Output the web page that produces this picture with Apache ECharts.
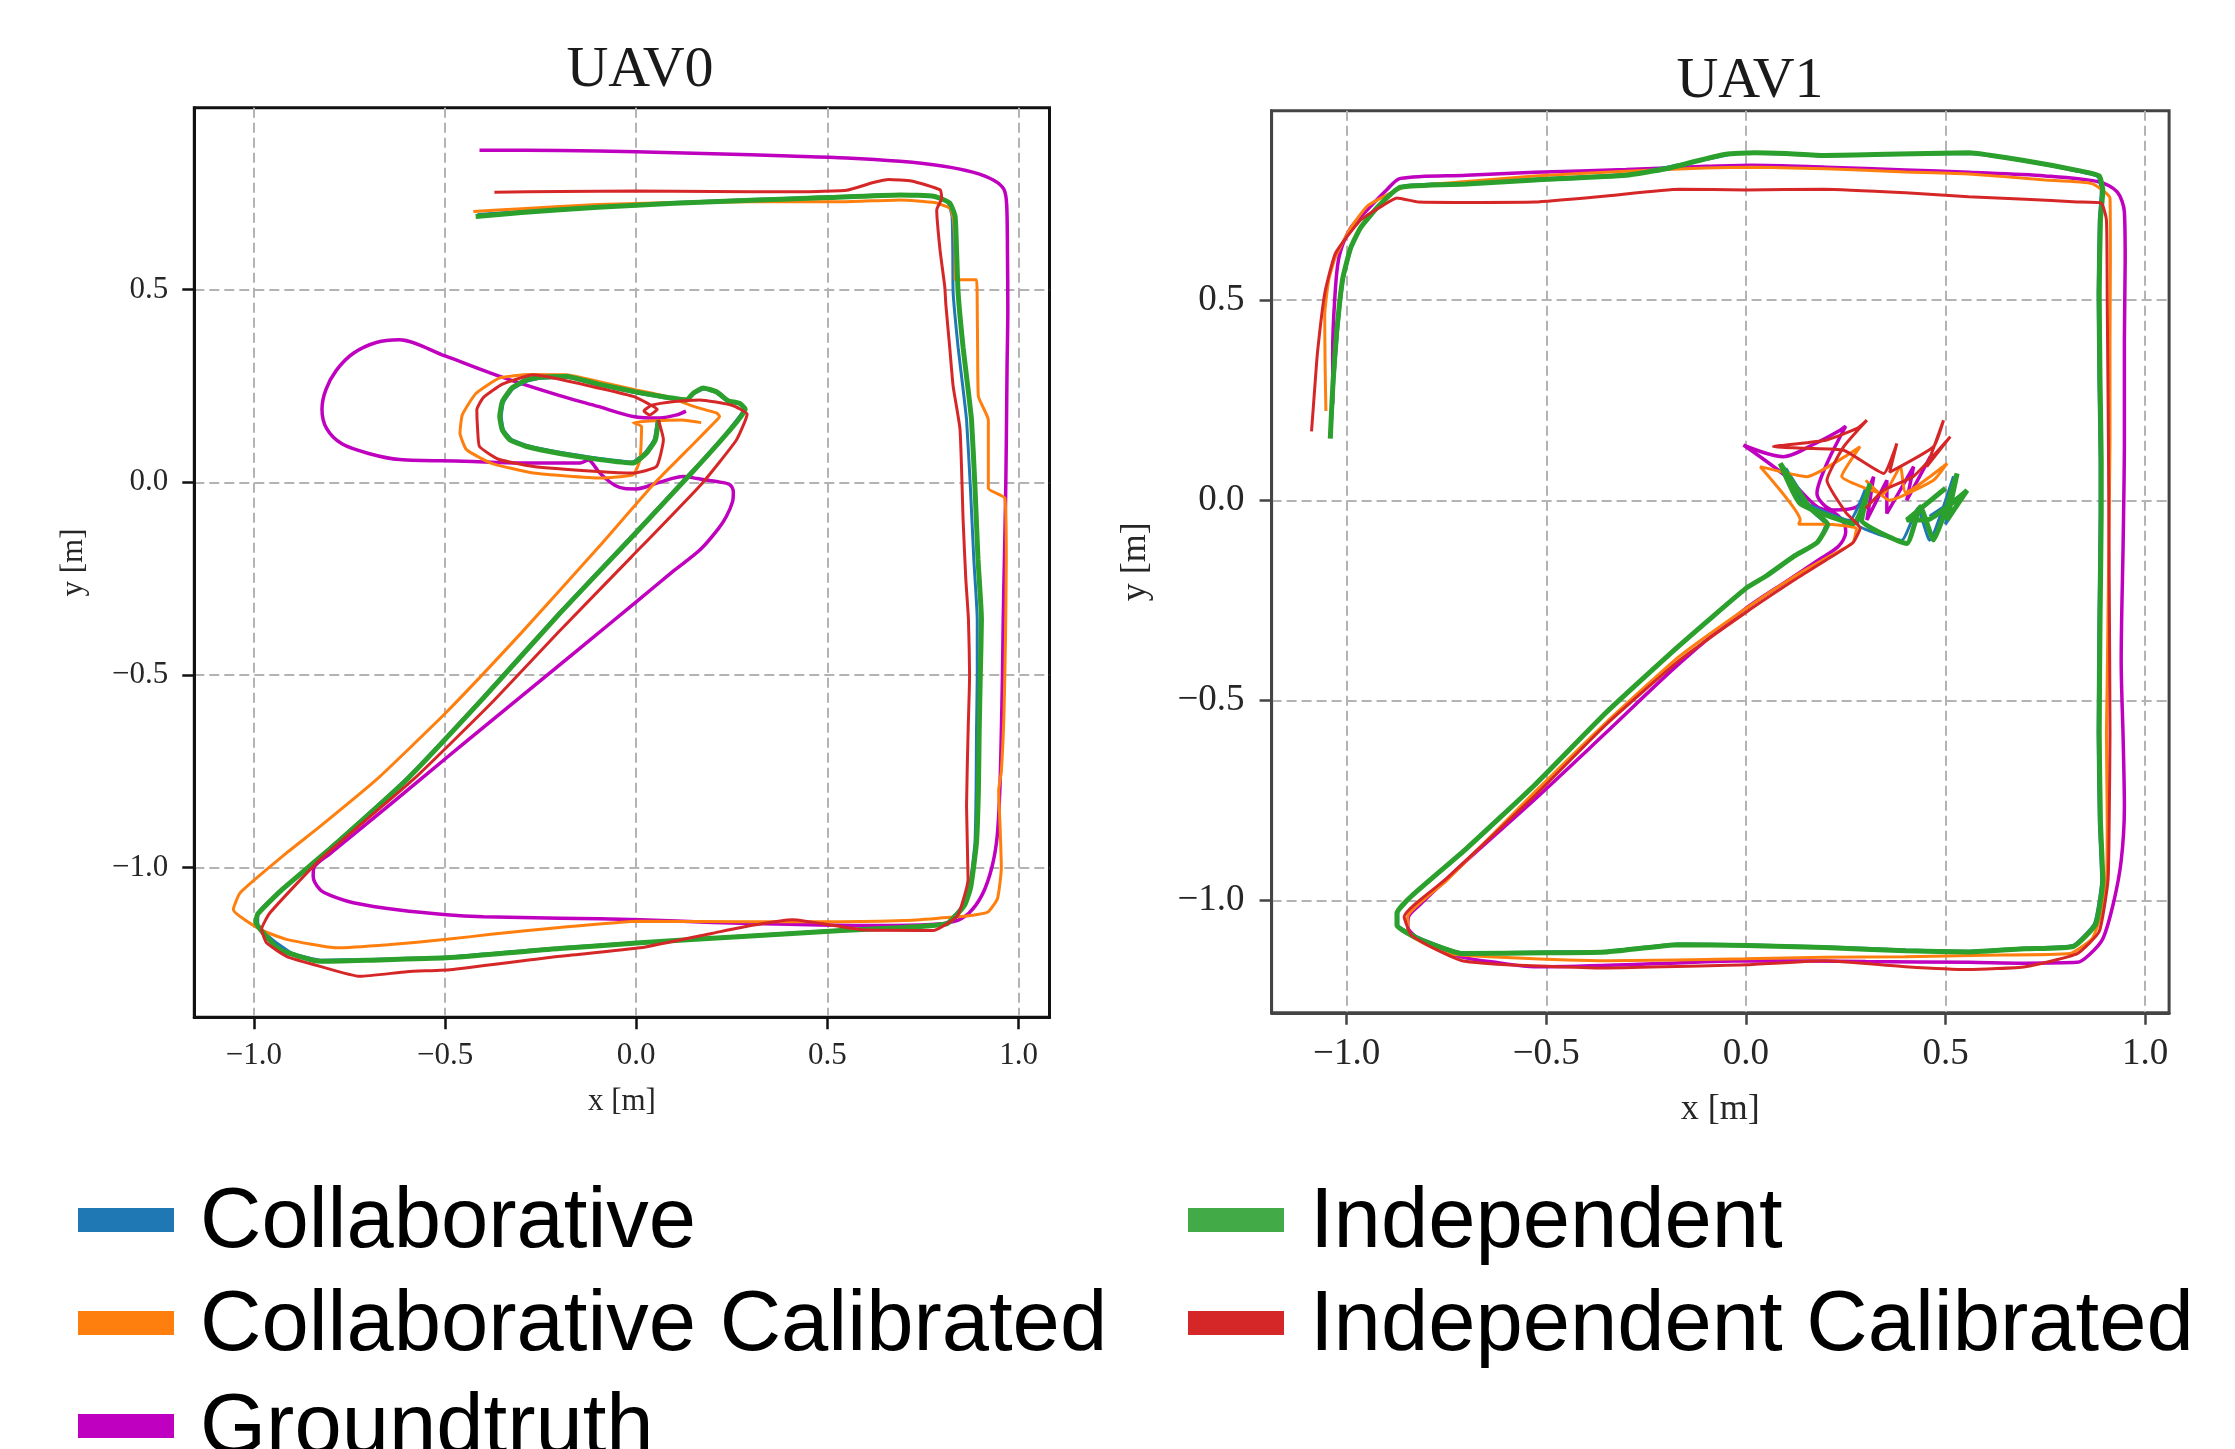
<!DOCTYPE html>
<html><head><meta charset="utf-8">
<script src="https://cdn.jsdelivr.net/npm/echarts@6/dist/echarts.min.js"></script>
<style>html,body{margin:0;padding:0;background:#fff}#c{width:2235px;height:1449px}</style>
</head><body><div id="c"></div>
<script>
const panelTitles = ['UAV0', 'UAV1'];
const seriesNames = ['Collaborative', 'Collaborative Calibrated', 'Groundtruth', 'Independent', 'Independent Calibrated'];
const xTickValues = [-1.0, -0.5, 0.0, 0.5, 1.0];
const yTickValues = [-1.0, -0.5, 0.0, 0.5];

// ---- UAV0 trajectories [x, y] in metres ----
const uav0Groundtruth = [[-0.41,0.862],[-0.2,0.861],[0.0,0.858],[0.2,0.853],[0.4,0.847],[0.55,0.842],[0.69,0.833],[0.8,0.821],[0.88,0.805],[0.935,0.784],[0.962,0.76],[0.969,0.72],[0.971,0.6],[0.972,0.45],[0.97,0.3],[0.968,0.1],[0.966,-0.05],[0.963,-0.2],[0.96,-0.356],[0.958,-0.5],[0.955,-0.65],[0.951,-0.8],[0.944,-0.92],[0.93,-1.0],[0.905,-1.07],[0.87,-1.118],[0.83,-1.14],[0.76,-1.148],[0.6,-1.15],[0.4,-1.147],[0.2,-1.142],[0.01,-1.135],[-0.2,-1.131],[-0.4,-1.127],[-0.496,-1.122],[-0.62,-1.11],[-0.74,-1.091],[-0.8,-1.072],[-0.827,-1.057],[-0.845,-1.022],[-0.843,-1.0],[-0.8,-0.963],[-0.7,-0.882],[-0.566,-0.772],[-0.45,-0.677],[-0.3,-0.555],[-0.15,-0.433],[0.0,-0.31],[0.1,-0.228],[0.167,-0.175],[0.215,-0.12],[0.236,-0.088],[0.252,-0.05],[0.254,-0.025],[0.245,-0.006],[0.21,0.002],[0.16,0.01],[0.123,0.015],[0.06,0.0],[0.0,-0.017],[-0.03,-0.016],[-0.055,-0.008],[-0.08,0.01],[-0.1,0.03],[-0.115,0.05],[-0.125,0.058],[-0.147,0.05],[-0.3,0.05],[-0.45,0.055],[-0.619,0.059],[-0.7,0.075],[-0.77,0.1],[-0.81,0.14],[-0.822,0.19],[-0.812,0.24],[-0.785,0.29],[-0.74,0.335],[-0.68,0.363],[-0.62,0.37],[-0.5,0.328],[-0.357,0.275],[-0.2,0.225],[-0.1,0.197],[-0.008,0.171],[0.062,0.167],[0.106,0.175],[0.13,0.185]];
const uav0Collaborative = [[-0.415,0.695],[-0.3,0.703],[-0.1,0.716],[0.1,0.726],[0.3,0.734],[0.5,0.741],[0.69,0.747],[0.78,0.743],[0.815,0.727],[0.826,0.69],[0.828,0.6],[0.829,0.491],[0.842,0.35],[0.854,0.25],[0.864,0.162],[0.874,-0.011],[0.883,-0.2],[0.892,-0.356],[0.892,-0.5],[0.89,-0.65],[0.889,-0.8],[0.886,-0.935],[0.872,-1.05],[0.855,-1.097],[0.81,-1.145],[0.7,-1.154],[0.538,-1.162],[0.3,-1.176],[0.01,-1.194],[-0.2,-1.208],[-0.496,-1.232],[-0.7,-1.238],[-0.827,-1.24],[-0.9,-1.222],[-0.95,-1.188],[-0.99,-1.148],[-0.99,-1.12],[-0.93,-1.06],[-0.8,-0.948],[-0.6,-0.768],[-0.4,-0.557],[-0.2,-0.337],[0.0,-0.127],[0.15,0.033],[0.24,0.133],[0.282,0.192],[0.268,0.205],[0.24,0.21],[0.21,0.232],[0.178,0.242],[0.15,0.23],[0.13,0.212],[0.07,0.22],[-0.008,0.234],[-0.1,0.253],[-0.182,0.272],[-0.25,0.27],[-0.285,0.263],[-0.322,0.243],[-0.347,0.208],[-0.353,0.171],[-0.347,0.136],[-0.327,0.112],[-0.285,0.096],[-0.2,0.078],[-0.095,0.062],[-0.01,0.053],[0.024,0.078],[0.047,0.112],[0.055,0.16]];
const uav0CollaborativeCalibrated = [[-0.426,0.703],[-0.3,0.71],[-0.1,0.721],[0.1,0.726],[0.3,0.728],[0.538,0.728],[0.69,0.733],[0.78,0.726],[0.821,0.711],[0.83,0.68],[0.834,0.6],[0.834,0.526],[0.89,0.526],[0.892,0.45],[0.893,0.35],[0.895,0.223],[0.921,0.162],[0.921,-0.015],[0.964,-0.041],[0.968,-0.2],[0.966,-0.4],[0.962,-0.6],[0.955,-0.75],[0.948,-0.8],[0.952,-0.9],[0.955,-1.0],[0.945,-1.08],[0.92,-1.115],[0.87,-1.125],[0.7,-1.137],[0.5,-1.14],[0.3,-1.14],[0.01,-1.139],[-0.2,-1.155],[-0.38,-1.173],[-0.496,-1.186],[-0.65,-1.2],[-0.784,-1.208],[-0.915,-1.186],[-0.984,-1.16],[-1.054,-1.109],[-1.036,-1.065],[-0.915,-0.962],[-0.827,-0.893],[-0.679,-0.771],[-0.5,-0.6],[-0.3,-0.39],[-0.1,-0.17],[0.05,0.0],[0.15,0.1],[0.207,0.158],[0.218,0.171],[0.21,0.18],[0.15,0.197],[0.08,0.223],[0.0,0.24],[-0.1,0.262],[-0.182,0.279],[-0.28,0.28],[-0.357,0.271],[-0.42,0.23],[-0.455,0.175],[-0.461,0.128],[-0.444,0.085],[-0.38,0.05],[-0.269,0.024],[-0.095,0.011],[-0.008,0.02],[0.01,0.059],[0.014,0.145],[-0.008,0.155],[0.05,0.16],[0.12,0.162],[0.17,0.155]];
const uav0Independent = [[-0.42,0.69],[-0.3,0.7],[-0.1,0.714],[0.1,0.724],[0.3,0.732],[0.5,0.739],[0.69,0.746],[0.78,0.742],[0.82,0.725],[0.834,0.69],[0.838,0.6],[0.842,0.491],[0.855,0.35],[0.867,0.25],[0.877,0.162],[0.886,-0.011],[0.894,-0.2],[0.903,-0.356],[0.9,-0.5],[0.897,-0.65],[0.895,-0.8],[0.89,-0.935],[0.875,-1.05],[0.859,-1.097],[0.813,-1.145],[0.7,-1.155],[0.538,-1.163],[0.3,-1.177],[0.01,-1.195],[-0.2,-1.21],[-0.496,-1.234],[-0.7,-1.24],[-0.827,-1.243],[-0.932,-1.213],[-0.975,-1.17],[-0.995,-1.14],[-0.99,-1.12],[-0.93,-1.06],[-0.8,-0.95],[-0.6,-0.771],[-0.4,-0.56],[-0.2,-0.34],[0.0,-0.13],[0.15,0.03],[0.24,0.13],[0.285,0.19],[0.27,0.205],[0.24,0.212],[0.21,0.235],[0.175,0.245],[0.15,0.232],[0.132,0.214],[0.07,0.222],[-0.008,0.236],[-0.1,0.255],[-0.182,0.275],[-0.25,0.273],[-0.287,0.266],[-0.325,0.245],[-0.35,0.21],[-0.357,0.171],[-0.35,0.135],[-0.33,0.11],[-0.287,0.093],[-0.2,0.075],[-0.095,0.059],[-0.008,0.05],[0.027,0.076],[0.05,0.11],[0.058,0.162]];
const uav0IndependentCalibrated = [[-0.371,0.753],[-0.2,0.755],[0.0,0.756],[0.2,0.755],[0.4,0.754],[0.55,0.758],[0.62,0.778],[0.66,0.786],[0.72,0.782],[0.795,0.759],[0.799,0.737],[0.786,0.707],[0.795,0.6],[0.807,0.508],[0.81,0.46],[0.82,0.35],[0.829,0.249],[0.847,0.137],[0.855,-0.097],[0.862,-0.25],[0.869,-0.356],[0.872,-0.5],[0.868,-0.65],[0.864,-0.84],[0.868,-1.03],[0.84,-1.125],[0.776,-1.163],[0.6,-1.162],[0.409,-1.135],[0.3,-1.15],[0.2,-1.17],[0.01,-1.208],[-0.2,-1.23],[-0.479,-1.264],[-0.6,-1.27],[-0.723,-1.282],[-0.827,-1.256],[-0.915,-1.23],[-0.967,-1.195],[-0.98,-1.16],[-0.958,-1.117],[-0.827,-0.979],[-0.583,-0.771],[-0.38,-0.574],[-0.2,-0.385],[-0.013,-0.194],[0.171,-0.004],[0.262,0.11],[0.29,0.177],[0.25,0.2],[0.166,0.214],[0.1,0.21],[0.04,0.2],[0.02,0.185],[0.035,0.175],[0.055,0.19],[0.03,0.205],[-0.008,0.223],[-0.1,0.245],[-0.269,0.279],[-0.35,0.255],[-0.4,0.22],[-0.417,0.188],[-0.415,0.14],[-0.41,0.093],[-0.36,0.06],[-0.269,0.041],[-0.1,0.028],[-0.008,0.024],[0.053,0.041],[0.071,0.111],[0.058,0.162]];

// ---- UAV1 trajectories [x, y] in metres ----
const uav1Groundtruth = [[-1.035,0.24],[-1.035,0.37],[-1.03,0.5],[-1.019,0.608],[-0.99,0.68],[-0.947,0.727],[-0.9,0.775],[-0.865,0.804],[-0.7,0.812],[-0.529,0.819],[-0.3,0.826],[-0.1,0.834],[0.015,0.837],[0.2,0.832],[0.4,0.825],[0.558,0.819],[0.75,0.81],[0.885,0.795],[0.93,0.77],[0.948,0.72],[0.95,0.6],[0.948,0.4],[0.948,0.15],[0.945,-0.1],[0.94,-0.4],[0.945,-0.6],[0.948,-0.766],[0.94,-0.9],[0.921,-1.004],[0.894,-1.095],[0.86,-1.135],[0.83,-1.154],[0.7,-1.156],[0.558,-1.154],[0.3,-1.152],[0.015,-1.15],[-0.25,-1.158],[-0.529,-1.165],[-0.62,-1.155],[-0.711,-1.141],[-0.78,-1.115],[-0.82,-1.095],[-0.847,-1.065],[-0.845,-1.04],[-0.82,-1.013],[-0.7,-0.9],[-0.529,-0.747],[-0.35,-0.58],[-0.167,-0.408],[0.0,-0.27],[0.105,-0.2],[0.18,-0.15],[0.232,-0.115],[0.25,-0.08],[0.245,-0.055],[0.219,-0.03],[0.178,-0.016],[0.1,0.06],[-0.006,0.138],[0.094,0.109],[0.17,0.14],[0.236,0.175],[0.25,0.185],[0.203,0.092],[0.178,0.017],[0.219,-0.024],[0.278,-0.016],[0.32,0.059],[0.303,-0.049],[0.353,0.05],[0.353,-0.033],[0.42,0.084],[0.403,0.0],[0.462,0.109]];
const uav1Collaborative = [[-1.04,0.16],[-1.036,0.23],[-1.032,0.3],[-1.023,0.42],[-1.008,0.555],[-0.988,0.632],[-0.963,0.683],[-0.918,0.737],[-0.863,0.784],[-0.7,0.792],[-0.529,0.802],[-0.3,0.814],[-0.167,0.838],[-0.1,0.851],[-0.022,0.867],[0.1,0.865],[0.196,0.86],[0.35,0.863],[0.558,0.866],[0.7,0.847],[0.83,0.822],[0.882,0.808],[0.89,0.772],[0.885,0.7],[0.882,0.516],[0.884,0.3],[0.887,0.1],[0.887,-0.033],[0.884,-0.3],[0.882,-0.582],[0.885,-0.8],[0.891,-0.949],[0.873,-1.057],[0.819,-1.112],[0.7,-1.118],[0.558,-1.126],[0.4,-1.123],[0.196,-1.115],[0.0,-1.11],[-0.167,-1.108],[-0.348,-1.126],[-0.5,-1.128],[-0.711,-1.13],[-0.818,-1.093],[-0.872,-1.06],[-0.872,-1.03],[-0.836,-0.987],[-0.698,-0.868],[-0.527,-0.709],[-0.348,-0.528],[-0.165,-0.361],[0.002,-0.218],[0.053,-0.187],[0.122,-0.138],[0.18,-0.104],[0.2,-0.06],[0.17,-0.03],[0.1,0.08],[0.14,0.0],[0.26,-0.05],[0.3,0.03],[0.28,-0.06],[0.39,-0.1],[0.43,-0.02],[0.46,-0.1],[0.52,0.06],[0.5,-0.06],[0.55,0.02],[0.46,-0.04]];
const uav1CollaborativeCalibrated = [[-1.052,0.223],[-1.054,0.34],[-1.055,0.462],[-1.045,0.55],[-1.028,0.608],[-0.99,0.68],[-0.947,0.736],[-0.856,0.782],[-0.7,0.796],[-0.529,0.81],[-0.3,0.822],[-0.1,0.83],[0.015,0.832],[0.2,0.828],[0.4,0.82],[0.558,0.815],[0.75,0.8],[0.867,0.791],[0.912,0.755],[0.913,0.6],[0.912,0.4],[0.912,0.15],[0.908,-0.2],[0.905,-0.45],[0.903,-0.582],[0.905,-0.8],[0.903,-0.949],[0.885,-1.05],[0.867,-1.095],[0.812,-1.132],[0.6,-1.136],[0.4,-1.14],[0.196,-1.141],[0.0,-1.145],[-0.348,-1.15],[-0.6,-1.142],[-0.747,-1.132],[-0.81,-1.105],[-0.847,-1.081],[-0.847,-1.04],[-0.75,-0.95],[-0.529,-0.729],[-0.35,-0.555],[-0.167,-0.39],[0.0,-0.27],[0.123,-0.189],[0.2,-0.145],[0.268,-0.106],[0.277,-0.07],[0.2,-0.06],[0.132,-0.06],[0.136,-0.049],[0.036,0.084],[0.153,0.059],[0.286,0.134],[0.24,0.06],[0.345,0.017],[0.387,0.084],[0.4,0.02],[0.504,0.092],[0.47,0.05],[0.36,0.0],[0.3,0.05]];
const uav1Independent = [[-1.041,0.154],[-1.038,0.22],[-1.034,0.297],[-1.025,0.42],[-1.01,0.553],[-0.99,0.63],[-0.965,0.681],[-0.92,0.735],[-0.865,0.782],[-0.7,0.79],[-0.529,0.8],[-0.3,0.812],[-0.2,0.828],[-0.12,0.848],[-0.05,0.864],[0.02,0.868],[0.1,0.866],[0.196,0.861],[0.35,0.864],[0.558,0.868],[0.7,0.848],[0.83,0.824],[0.885,0.81],[0.894,0.773],[0.888,0.7],[0.885,0.516],[0.887,0.3],[0.89,0.1],[0.89,-0.033],[0.887,-0.3],[0.885,-0.582],[0.888,-0.8],[0.894,-0.949],[0.876,-1.059],[0.821,-1.114],[0.7,-1.12],[0.558,-1.128],[0.4,-1.125],[0.196,-1.117],[0.0,-1.112],[-0.167,-1.11],[-0.348,-1.128],[-0.5,-1.13],[-0.711,-1.132],[-0.82,-1.095],[-0.874,-1.062],[-0.874,-1.031],[-0.838,-0.989],[-0.7,-0.87],[-0.529,-0.711],[-0.35,-0.53],[-0.167,-0.363],[0.0,-0.22],[0.051,-0.189],[0.12,-0.14],[0.178,-0.106],[0.205,-0.06],[0.161,-0.02],[0.086,0.092],[0.136,-0.008],[0.27,-0.058],[0.311,0.042],[0.29,-0.05],[0.403,-0.108],[0.437,-0.016],[0.47,-0.099],[0.529,0.067],[0.504,-0.049],[0.554,0.025],[0.453,-0.049],[0.403,-0.049],[0.5,0.03]];
const uav1IndependentCalibrated = [[-1.088,0.172],[-1.08,0.28],[-1.073,0.37],[-1.055,0.516],[-1.028,0.617],[-0.965,0.7],[-0.91,0.736],[-0.874,0.755],[-0.82,0.745],[-0.7,0.744],[-0.529,0.745],[-0.35,0.76],[-0.167,0.777],[0.0,0.775],[0.196,0.777],[0.4,0.768],[0.558,0.758],[0.7,0.752],[0.83,0.745],[0.89,0.742],[0.903,0.7],[0.905,0.5],[0.908,0.15],[0.91,-0.2],[0.912,-0.582],[0.91,-0.8],[0.907,-0.949],[0.885,-1.077],[0.83,-1.132],[0.7,-1.165],[0.558,-1.172],[0.4,-1.165],[0.196,-1.15],[0.0,-1.16],[-0.348,-1.168],[-0.6,-1.16],[-0.711,-1.15],[-0.79,-1.115],[-0.838,-1.086],[-0.856,-1.04],[-0.75,-0.945],[-0.529,-0.738],[-0.35,-0.56],[-0.167,-0.4],[0.0,-0.28],[0.123,-0.198],[0.2,-0.15],[0.268,-0.106],[0.286,-0.07],[0.25,-0.03],[0.203,0.05],[0.245,0.134],[0.303,0.2],[0.28,0.18],[0.2,0.15],[0.069,0.134],[0.15,0.13],[0.245,0.125],[0.345,0.067],[0.378,0.142],[0.36,0.07],[0.47,0.134],[0.495,0.2],[0.453,0.084],[0.512,0.159],[0.42,0.06],[0.345,0.025],[0.3,-0.02]];

const lineColors = {
  'Collaborative': '#1f77b4',
  'Collaborative Calibrated': '#ff7f0e',
  'Groundtruth': '#bf00bf',
  'Independent': '#2ca02c',
  'Independent Calibrated': '#d62728'
};
const legendColors = {
  'Collaborative': '#1f77b4',
  'Collaborative Calibrated': '#ff7f0e',
  'Groundtruth': '#c000c0',
  'Independent': '#42ab48',
  'Independent Calibrated': '#d62728'
};
const lineWidths = {
  'Collaborative': 3, 'Collaborative Calibrated': 3, 'Groundtruth': 3.5,
  'Independent': 5, 'Independent Calibrated': 3
};

const panels = [
  {data: {'Groundtruth': uav0Groundtruth, 'Collaborative': uav0Collaborative, 'Collaborative Calibrated': uav0CollaborativeCalibrated, 'Independent': uav0Independent, 'Independent Calibrated': uav0IndependentCalibrated}},
  {data: {'Groundtruth': uav1Groundtruth, 'Collaborative': uav1Collaborative, 'Collaborative Calibrated': uav1CollaborativeCalibrated, 'Independent': uav1Independent, 'Independent Calibrated': uav1IndependentCalibrated}}
];

// layout (pixels)
const gridBoxes = [
  {left: 194.3, top: 107.8, width: 855.2, height: 909.4, xMin: -1.156, xMax: 1.081, yMin: -1.388, yMax: 0.972,
   frame: '#111', font: 31, xLabelMargin: 23, xNameGap: 69, yLabelMargin: 26, yNameGap: 105, nameFont: 31},
  {left: 1271.6, top: 110.7, width: 897.5, height: 902.1, xMin: -1.188, xMax: 1.060, yMin: -1.280, yMax: 0.973,
   frame: '#444', font: 37, xLabelMargin: 23, xNameGap: 79, yLabelMargin: 27, yNameGap: 118, nameFont: 36}
];

const fmt = v => (v < 0 ? '\u2212' : '') + Math.abs(v).toFixed(1);
const serif = '"Liberation Serif", "DejaVu Serif", serif';
const labelColor = '#262626';

function makeAxis(i, dim) {
  const g = gridBoxes[i];
  const isX = dim === 'x';
  const ticks = isX ? xTickValues : yTickValues;
  return {
    gridIndex: i, type: 'value',
    min: isX ? g.xMin : g.yMin, max: isX ? g.xMax : g.yMax,
    position: isX ? 'bottom' : 'left',
    name: isX ? 'x [m]' : 'y [m]',
    nameLocation: 'middle',
    nameGap: isX ? g.xNameGap : g.yNameGap,
    nameTextStyle: {fontFamily: serif, fontSize: g.nameFont, color: labelColor},
    axisLine: {show: true, onZero: false, lineStyle: {color: g.frame, width: 3}},
    axisTick: {show: true, inside: false, length: 12, lineStyle: {color: g.frame, width: 2.5}, customValues: ticks},
    axisLabel: {show: true, customValues: ticks, formatter: fmt, fontFamily: serif, fontSize: g.font,
      lineHeight: g.font, color: labelColor, margin: isX ? g.xLabelMargin : g.yLabelMargin},
    splitLine: {show: true, lineStyle: {color: '#b3b3b3', width: 2, type: [10, 5]}},
    minInterval: 0.5, maxInterval: 0.5
  };
}

const drawOrder = ['Groundtruth', 'Collaborative', 'Collaborative Calibrated', 'Independent', 'Independent Calibrated'];
const series = [];
panels.forEach((p, i) => {
  drawOrder.forEach(name => {
    series.push({
      type: 'line', name: name, data: p.data[name],
      xAxisIndex: i, yAxisIndex: i,
      showSymbol: false, symbol: 'none', smooth: name === 'Groundtruth' ? 0.3 : 0.15,
      lineStyle: {color: lineColors[name], width: lineWidths[name]},
      itemStyle: {color: lineColors[name]},
      silent: true, animation: false
    });
  });
});

// legend: one component per entry, arranged in two columns (column-major like the reference).
// The swatch path fills the top 24px of a 96x32 icon box so the label sits level with it.
const legendIcon = 'path://M0,0H96V24H0Z M0,32H1';
const legendCols = [78, 1188];
const legendRows = [1181.5, 1284.5, 1387.5];
const legendSlots = [
  ['Collaborative', 0, 0], ['Collaborative Calibrated', 0, 1], ['Groundtruth', 0, 2],
  ['Independent', 1, 0], ['Independent Calibrated', 1, 1]
];
const legendText = {fontFamily: '"Liberation Sans", Arial, sans-serif', fontSize: 85, lineHeight: 85, color: '#000', padding: [0, 0, 0, 21]};
const legends = legendSlots.map(([n, c, r]) => ({
  orient: 'vertical', left: legendCols[c], top: legendRows[r], padding: 0,
  itemWidth: 96, itemHeight: 32, itemGap: 0, icon: legendIcon, selectedMode: false,
  textStyle: legendText,
  data: [{name: n, icon: legendIcon, itemStyle: {color: legendColors[n], borderWidth: 0}}]
}));

const chart = echarts.init(document.getElementById('c'), null, {renderer: 'canvas'});
chart.setOption({
  backgroundColor: '#fff',
  animation: false,
  grid: gridBoxes.map((g, i) => ({left: g.left, top: g.top, width: g.width, height: g.height,
    show: true, borderColor: g.frame, borderWidth: 3, backgroundColor: '#fff', containLabel: false})),
  xAxis: [makeAxis(0, 'x'), makeAxis(1, 'x')],
  yAxis: [makeAxis(0, 'y'), makeAxis(1, 'y')],
  legend: legends,
  graphic: [
    {type: 'text', x: 640, y: 71, style: {text: panelTitles[0], font: 'normal 58px ' + serif, fill: '#1a1a1a', align: 'center', verticalAlign: 'middle'}},
    {type: 'text', x: 1750, y: 82, style: {text: panelTitles[1], font: 'normal 58px ' + serif, fill: '#1a1a1a', align: 'center', verticalAlign: 'middle'}}
  ],
  series: series
});
</script>
</body></html>
